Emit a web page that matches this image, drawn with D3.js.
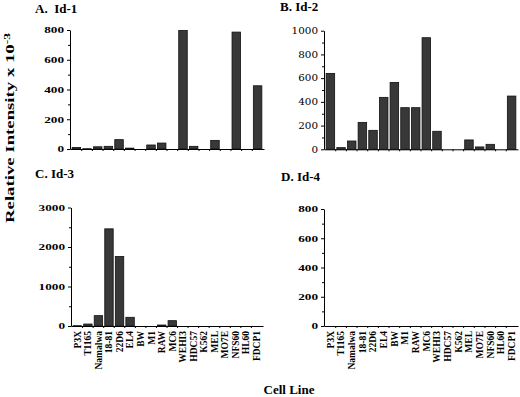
<!DOCTYPE html>
<html>
<head>
<meta charset="utf-8">
<script src="https://cdn.jsdelivr.net/npm/d3@7"></script>
<style>
  body { margin: 0; background: #fff; }
  svg { display: block; font-family: "Liberation Serif", "Times New Roman", serif; }
</style>
</head>
<body>
<svg width="520" height="397"></svg>
<script>
// cell lines on the x axis (same for all four panels)
const cellLines = ['P3X', 'T1165', 'Namalwa', '18-81', '22D6', 'EL4', 'BW', 'M1', 'RAW', 'MC6',
    'WEHI3', 'HDC57', 'K562', 'MEL', 'MO7E', 'NFS60', 'HL60', 'FDCP1'];

// relative intensity x 10^-3
const id1 = [10, 2, 15, 18, 63, 6, 0, 27, 40, 0, 797, 18, 0, 58, 0, 786, 0, 425];
const id2 = [640, 14, 70, 227, 160, 438, 564, 351, 351, 941, 152, 0, 0, 79, 20, 42, 0, 449];
const id3 = [8, 50, 262, 2460, 1760, 220, 0, 0, 25, 135, 0, 0, 0, 0, 0, 0, 0, 0];
const id4 = [0, 0, 0, 0, 0, 0, 0, 0, 0, 0, 0, 0, 0, 0, 0, 0, 0, 0];

// y ticks
const id1Ticks = [0, 200, 400, 600, 800];
const id1Minor = [100, 300, 500, 700];
const id2Ticks = [0, 200, 400, 600, 800, 1000];
const id2Minor = [100, 300, 500, 700, 900];
const id3Ticks = [0, 1000, 2000, 3000];
const id3Minor = [500, 1500, 2500];
const id4Ticks = [0, 200, 400, 600, 800];
const id4Minor = [100, 300, 500, 700];

const svg = d3.select('svg');
const serif = '"Liberation Serif", "Times New Roman", serif';

// panel layout
const panels = [
    {title: 'A.  Id-1', tx: 35, ty: 13, data: id1, ticks: id1Ticks, minor: id1Minor, max: 800,
     x0: 70, x1: 264, yb: 149, yt: 30, labels: false, bold: true},
    {title: 'B. Id-2', tx: 280, ty: 11, data: id2, ticks: id2Ticks, minor: id2Minor, max: 1000,
     x0: 324, x1: 518, yb: 149.3, yt: 30.7, labels: false, bold: false},
    {title: 'C. Id-3', tx: 35, ty: 178, data: id3, ticks: id3Ticks, minor: id3Minor, max: 3000,
     x0: 71, x1: 263, yb: 326, yt: 207.5, labels: true, bold: true},
    {title: 'D. Id-4', tx: 281, ty: 181, data: id4, ticks: id4Ticks, minor: id4Minor, max: 800,
     x0: 324, x1: 518, yb: 326, yt: 209, labels: true, bold: true}
];

panels.forEach(p => {
    const g = svg.append('g');

    const x = d3.scaleBand().domain(cellLines).range([p.x0, p.x1])
        .paddingInner(0.2).paddingOuter(0.2);
    const y = d3.scaleLinear().domain([0, p.max]).range([p.yb, p.yt]);

    // title
    g.append('text')
        .attr('x', p.tx).attr('y', p.ty)
        .style('font-family', serif)
        .style('font-size', '13px').style('font-weight', 'bold')
        .style('white-space', 'pre')
        .text(p.title);

    // bars
    g.selectAll('rect')
        .data(p.data.map((v, i) => [cellLines[i], v]).filter(d => d[1] > 0))
        .enter()
        .append('rect')
            .attr('x', d => x(d[0]))
            .attr('y', d => y(d[1]))
            .attr('width', x.bandwidth())
            .attr('height', d => y(0) - y(d[1]))
            .style('fill', '#383838')
            .style('stroke', '#111')
            .style('stroke-width', 0.8);

    // y axis, major + minor
    const yAxis = d3.axisLeft(y).tickValues(p.ticks).tickFormat(d3.format('d'))
        .tickSize(3).tickPadding(3).tickSizeOuter(0);
    const ya = g.append('g')
        .attr('transform', 'translate(' + p.x0 + ',0)')
        .call(yAxis);
    ya.selectAll('text')
        .style('font-family', p.bold ? serif : '"DejaVu Serif", serif')
        .style('font-size', p.bold ? '9px' : '8.5px')
        .style('font-weight', p.bold ? 'bold' : 'normal')
        .attr('textLength', d => String(d).length * 6.6)
        .attr('lengthAdjust', 'spacingAndGlyphs');
    g.append('g')
        .attr('transform', 'translate(' + p.x0 + ',0)')
        .call(d3.axisLeft(y).tickValues(p.minor).tickSize(2).tickFormat(''))
        .select('.domain').remove();

    // x axis line with ticks at the category boundaries
    const xAxis = d3.axisBottom(x).tickSize(0).tickSizeOuter(0);
    const xa = g.append('g')
        .attr('transform', 'translate(0,' + p.yb + ')')
        .call(xAxis);
    if (p.labels) {
        xa.selectAll('text')
            .attr('transform', 'rotate(-90)')
            .attr('x', -5).attr('y', 0).attr('dy', '0.35em')
            .style('text-anchor', 'end')
            .style('font-family', serif)
            .style('font-size', '9.5px')
            .style('font-weight', 'bold');
    } else {
        xa.selectAll('text').remove();
    }
    const step = x.step();
    g.selectAll('line.sep')
        .data(cellLines.slice(1))
        .enter()
        .append('line')
            .attr('class', 'sep')
            .attr('x1', d => x(d) - step * 0.1)
            .attr('x2', d => x(d) - step * 0.1)
            .attr('y1', p.yb).attr('y2', p.yb + 2)
            .style('stroke', '#000');
});

// shared axis titles
svg.append('text')
    .attr('transform', 'translate(14,128) rotate(-90)')
    .style('text-anchor', 'middle')
    .style('font-family', serif)
    .style('font-size', '12.5px').style('font-weight', 'bold')
    .attr('textLength', 190).attr('lengthAdjust', 'spacingAndGlyphs')
    .text('Relative Intensity x 10')
    .append('tspan')
        .attr('dy', -4)
        .style('font-size', '9px')
        .text('-3');

svg.append('text')
    .attr('x', 289).attr('y', 394)
    .style('text-anchor', 'middle')
    .style('font-family', serif)
    .style('font-size', '13px').style('font-weight', 'bold')
    .text('Cell Line');
</script>
</body>
</html>
